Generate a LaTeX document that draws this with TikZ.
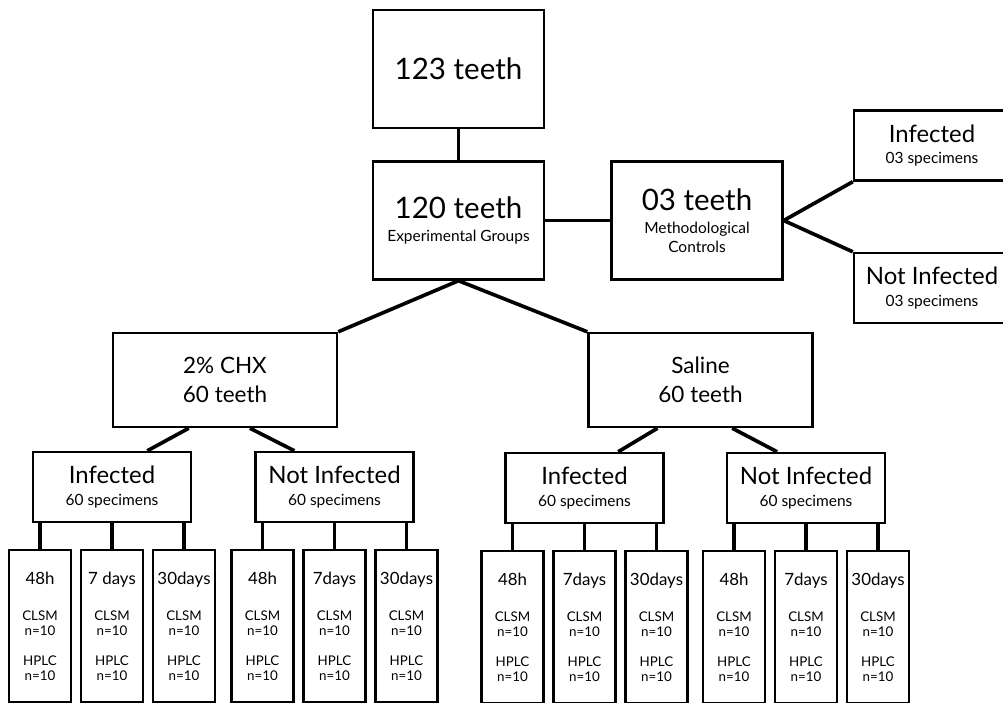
\documentclass[tikz,border=0pt]{standalone}
\usepackage{fontspec}
\setmainfont{Lato}
\usetikzlibrary{calc}

\newcommand{\headfont}{\fontsize{21}{24}\selectfont}
\newcommand{\groupfont}{\fontsize{16}{20.6}\selectfont}
\newcommand{\subfont}{\fontsize{17}{17}\selectfont}
\newcommand{\notefont}{\fontsize{11}{13}\selectfont}
\newcommand{\leaffont}{\fontsize{9.5}{10.7}\selectfont}

\tikzset{
  box/.style={draw, line width=1.7pt, align=center, inner sep=0pt},
  bigbox/.style={box, minimum width=4.275cm, minimum height=2.95cm},
  sidebox/.style={box, minimum width=3.9cm, minimum height=1.75cm},
  groupbox/.style={box, minimum width=5.6cm, minimum height=2.35cm, font=\groupfont},
  subbox/.style={box, minimum width=3.95cm, minimum height=1.75cm},
  leafbox/.style={box, minimum width=1.55cm, minimum height=3.8cm, font=\leaffont},
  link/.style={line width=2.6pt},
}

\begin{document}
\begin{tikzpicture}[x=0.025cm, y=-0.025cm]
  % picture frame (pixels of the original)
  \useasboundingbox (0,0) rectangle (1003,702);
  \clip (0,0) rectangle (1003,702);

  % whole sample
  \node[bigbox] (all) at (458.5,69) {\headfont 123 teeth};
  \node[bigbox] (exp) at (458.5,220.5) {{\headfont 120 teeth}\\[3.8pt]{\notefont Experimental Groups}};
  \node[bigbox] (ctrl) at (697,220.5) {{\headfont 03 teeth}\\[4.2pt]{\notefont Methodological}\\[1.8pt]{\notefont Controls}};

  % methodological controls
  \node[sidebox] (cinf) at (932,145.5) {{\subfont Infected}\\[3.4pt]{\notefont 03 specimens}};
  \node[sidebox] (cnot) at (932,288) {{\subfont Not Infected}\\[3.4pt]{\notefont 03 specimens}};

  % irrigants
  \node[groupbox] (chx) at (225,380) {2\% CHX\\60 teeth};
  \node[groupbox] (sal) at (700.5,380) {Saline\\60 teeth};

  % infection status
  \node[subbox] (chxinf) at (112,487) {{\subfont Infected}\\[3.4pt]{\notefont 60 specimens}};
  \node[subbox] (chxnot) at (334.5,487) {{\subfont Not Infected}\\[3.4pt]{\notefont 60 specimens}};
  \node[subbox] (salinf) at (584.5,488) {{\subfont Infected}\\[3.4pt]{\notefont 60 specimens}};
  \node[subbox] (salnot) at (806,488) {{\subfont Not Infected}\\[3.4pt]{\notefont 60 specimens}};

  % links
  \draw[link] (all) -- (exp);
  \draw[link] (exp) -- (ctrl);
  \draw[link] (ctrl.east) -- (cinf.south west);
  \draw[link] (ctrl.east) -- (cnot.north west);
  \draw[link] (exp.south) -- (chx.north east);
  \draw[link] (exp.south) -- (sal.north west);
  \draw[link] ($(chx.south west)!0.34!(chx.south east)$) -- ($(chxinf.north west)!0.72!(chxinf.north east)$);
  \draw[link] ($(chx.south west)!0.61!(chx.south east)$) -- ($(chxnot.north west)!0.25!(chxnot.north east)$);
  \draw[link] ($(sal.south west)!0.31!(sal.south east)$) -- ($(salinf.north west)!0.71!(salinf.north east)$);
  \draw[link] ($(sal.south west)!0.64!(sal.south east)$) -- ($(salnot.north west)!0.32!(salnot.north east)$);

  % time points
  \foreach \p/\w in {chxinf/7 days, chxnot/7days, salinf/7days, salnot/7days}
    \foreach \dx/\t/\k in {-72/48h/a, 0/\w/b, 72/30days/c} {
      \node[leafbox] (\p-\k) at ($(\p.south)+(\dx,103)$)
        {{\fontsize{12}{12}\selectfont \t}\\[15pt]CLSM\\n=10\\[10pt]HPLC\\n=10};
      \draw[link] (\p-\k.north) -- (\p-\k.north |- \p.south);
    }
\end{tikzpicture}
\end{document}
